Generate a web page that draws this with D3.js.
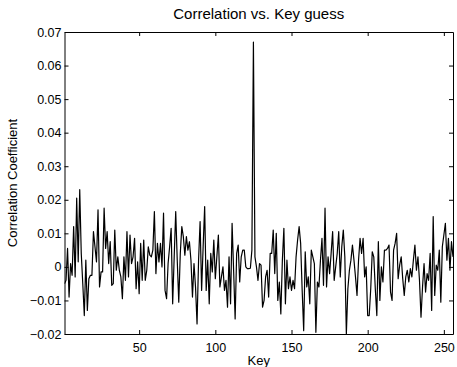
<!DOCTYPE html>
<html>
<head>
<meta charset="utf-8">
<script src="https://cdn.jsdelivr.net/npm/d3@7"></script>
<style>
  body { margin: 0; background: #fff; }
  svg { display: block; font-family: "Liberation Sans", Arial, Helvetica, sans-serif; }
  .axis path, .axis line { stroke: #000; stroke-width: 1; }
  .axis text { fill: #000; font-size: 12.5px; }
</style>
</head>
<body>
<div id="chart"></div>
<script>
// correlation coefficient for each key guess 1..256
const corrValues = [
  -0.005, -0.004, 0.0055, -0.009, 0.001, -0.0025, 0.012, -0.003, 0.0205, 0.0015,
  0.023, 0.004, -0.005, -0.0145, 0.002, -0.013, -0.0035, -0.0025, -0.0025, 0.0105,
  0.006, 0.0015, 0.017, -0.006, -0.0015, -0.0015, 0.0175, 0.0055, 0.0105, 0.001,
  0.0075, -0.0055, -0.005, 0.011, -0.001, 0.003, -0.001, -0.003, -0.0095, 0.003,
  -0.004, 0.0105, -0.003, 0.0095, 0.001, 0.003, 0.0085, -0.0065, 0.0015, -0.008,
  0.007, -0.004, 0.008, -0.004, -0.001, 0.006, 0.0035, 0.003, 0.005, 0.0165,
  -0.002, 0.007, 0.0015, 0.007, 0.000, 0.016, -0.007, -0.0095, 0.001, 0.006,
  0.0115, -0.011, 0.003, 0.0165, 0.002, -0.0105, 0.004, 0.012, 0.009, 0.0035,
  0.009, 0.005, 0.0075, 0.002, -0.009, 0.001, -0.006, -0.017, 0.002, 0.0135,
  -0.007, 0.006, 0.018, -0.007, 0.002, -0.011, 0.004, -0.0015, 0.008, -0.0035,
  0.003, 0.0095, -0.006, -0.003, 0.000, -0.007, -0.004, -0.012, 0.003, -0.011,
  0.013, -0.001, -0.0155, 0.004, 0.0065, -0.0045, 0.003, 0.005, 0.005, 0.000,
  -0.0005, -0.0005, -0.0004, 0.005, 0.067, 0.003, 0.000, -0.004, 0.001, 0.0005,
  -0.012, -0.010, -0.003, -0.001, -0.009, 0.004, 0.004, 0.011, -0.002, 0.010,
  -0.010, -0.0045, -0.014, 0.002, 0.0115, -0.011, 0.002, -0.0065, -0.003, -0.007,
  -0.004, -0.0065, 0.003, 0.008, 0.012, 0.007, -0.007, -0.019, 0.0045, -0.006,
  -0.003, -0.011, 0.005, 0.003, 0.001, -0.0195, -0.0045, -0.006, 0.002, 0.0085,
  -0.0055, 0.0175, -0.006, 0.003, -0.002, 0.004, 0.0105, -0.004, 0.000, 0.004,
  0.0105, -0.003, 0.006, 0.011, 0.003, -0.020, -0.0065, -0.001, 0.002, 0.0065,
  0.002, -0.003, -0.0085, 0.002, 0.0085, 0.004, 0.0085, -0.003, 0.000, -0.0145,
  -0.0145, -0.0065, 0.0045, 0.003, -0.0065, -0.0145, 0.0075, -0.010, 0.000, -0.0045,
  0.005, 0.005, 0.0055, 0.0065, -0.0075, -0.010, 0.005, 0.007, 0.010, -0.0035,
  0.0005, 0.003, -0.0035, -0.0085, -0.003, -0.001, -0.0045, -0.0005, -0.003, 0.002,
  0.0065, -0.001, 0.003, -0.004, -0.015, -0.006, 0.001, -0.0075, -0.002, -0.004,
  0.004, -0.013, 0.015, -0.0085, 0.0005, -0.001, 0.005, -0.0105, 0.006, 0.0095,
  0.013, 0.002, 0.0085, -0.001, 0.0075, 0.003
];
const keys = corrValues.map((d, i) => i + 1);

const xTicks = [50, 100, 150, 200, 250];
const yTicks = [-0.02, -0.01, 0, 0.01, 0.02, 0.03, 0.04, 0.05, 0.06, 0.07];
const yTickLabels = ["\u22120.02", "\u22120.01", "0", "0.01", "0.02", "0.03", "0.04", "0.05", "0.06", "0.07"];

const width = 457, height = 367;
const margin = { top: 32, right: 4, bottom: 33, left: 64.5 };

const svg = d3.select('#chart').append('svg')
  .attr('width', width)
  .attr('height', height);

const x = d3.scaleLinear().domain([1, 256]).range([margin.left, width - margin.right]);
const y = d3.scaleLinear().domain([-0.02, 0.07]).range([height - margin.bottom, margin.top]);

svg.append('clipPath').attr('id', 'plot-clip')
  .append('rect')
  .attr('x', x(1)).attr('y', y(0.07))
  .attr('width', x(256) - x(1)).attr('height', y(-0.02) - y(0.07));

// data line
const line = d3.line()
  .x((d, i) => x(keys[i]))
  .y(d => y(d));

svg.append('path')
  .datum(corrValues)
  .attr('clip-path', 'url(#plot-clip)')
  .attr('fill', 'none')
  .attr('stroke', '#000')
  .attr('stroke-width', 1.2)
  .attr('stroke-linejoin', 'round')
  .attr('d', line);

// axes (MATLAB style box, ticks inside)
const tickLen = 4;
svg.append('g').attr('class', 'axis')
  .attr('transform', `translate(0,${y(-0.02)})`)
  .call(d3.axisBottom(x).tickValues(xTicks).tickSizeInner(-tickLen).tickSizeOuter(0).tickPadding(9));

svg.append('g').attr('class', 'axis')
  .attr('transform', `translate(0,${y(0.07)})`)
  .call(d3.axisTop(x).tickValues(xTicks).tickSizeInner(-tickLen).tickSizeOuter(0).tickFormat(''));

svg.append('g').attr('class', 'axis')
  .attr('transform', `translate(${x(1)},0)`)
  .call(d3.axisLeft(y).tickValues(yTicks).tickSizeInner(-tickLen).tickSizeOuter(0).tickPadding(3)
    .tickFormat((d, i) => yTickLabels[i]));

svg.append('g').attr('class', 'axis')
  .attr('transform', `translate(${x(256)},0)`)
  .call(d3.axisRight(y).tickValues(yTicks).tickSizeInner(-tickLen).tickSizeOuter(0).tickFormat(''));

// titles
svg.append('text')
  .attr('x', (x(1) + x(256)) / 2)
  .attr('y', 19)
  .attr('text-anchor', 'middle')
  .style('font-size', '15px')
  .text('Correlation vs. Key guess');

svg.append('text')
  .attr('x', (x(1) + x(256)) / 2)
  .attr('y', 365)
  .attr('text-anchor', 'middle')
  .style('font-size', '13px')
  .text('Key');

svg.append('text')
  .attr('transform', `translate(17,${(y(0.07) + y(-0.02)) / 2}) rotate(-90)`)
  .attr('text-anchor', 'middle')
  .style('font-size', '13px')
  .text('Correlation Coefficient');
</script>
</body>
</html>
